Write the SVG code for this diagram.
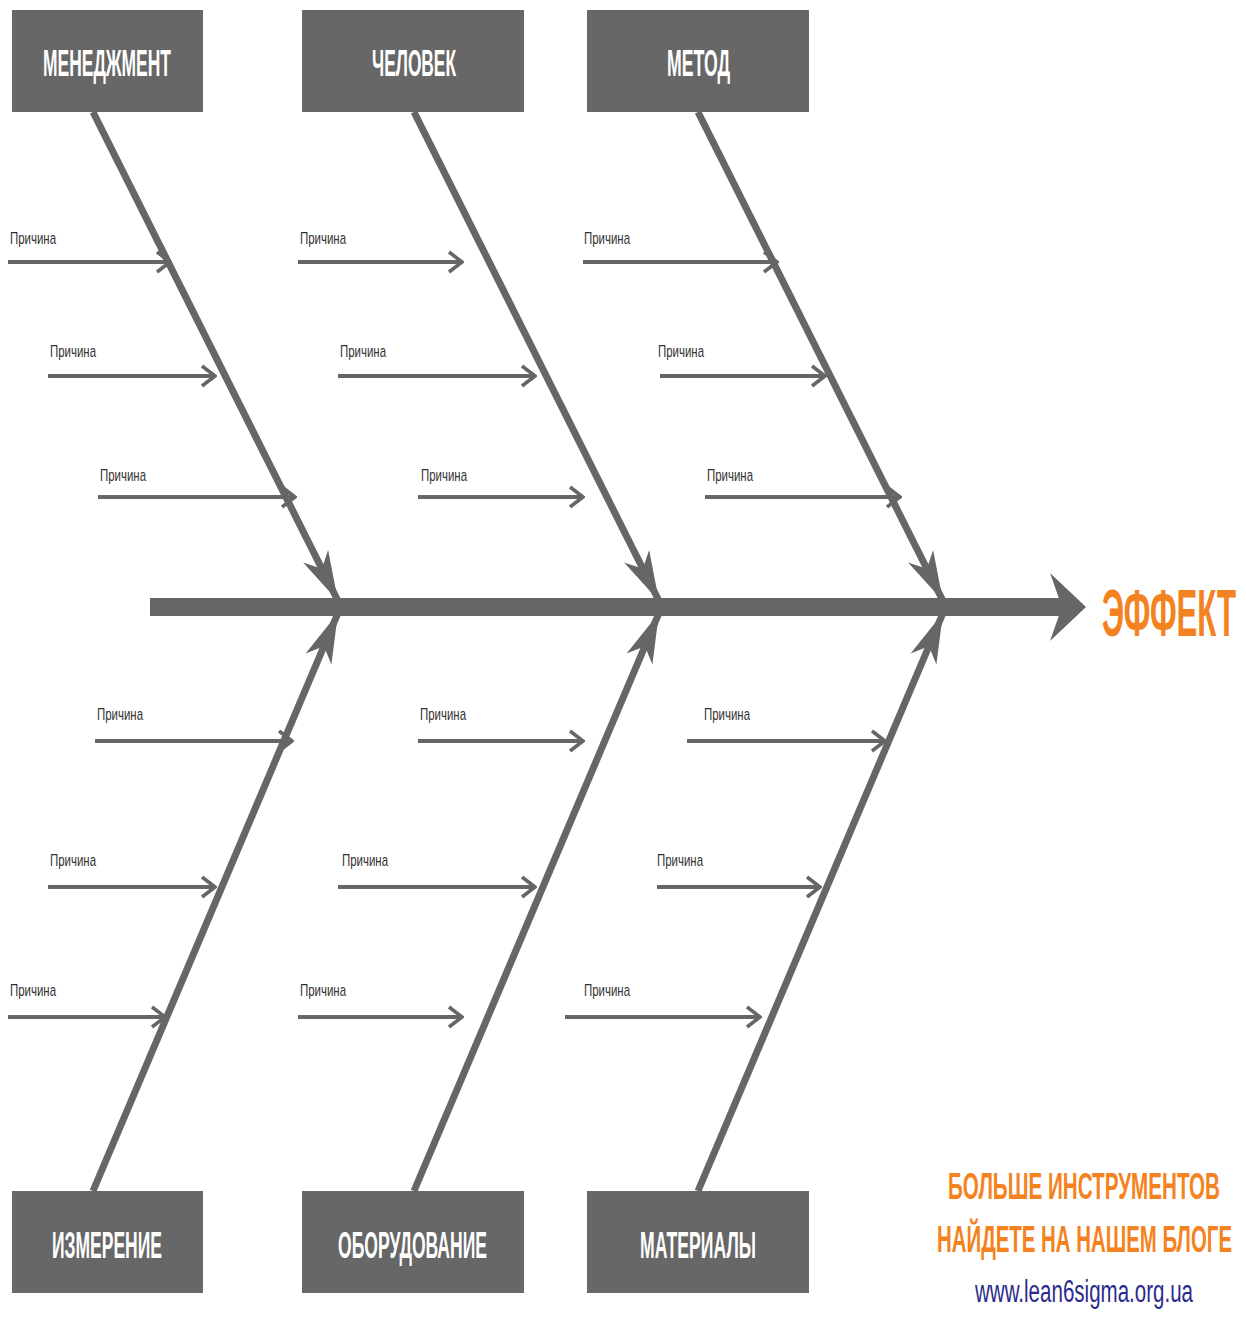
<svg xmlns="http://www.w3.org/2000/svg" width="1246" height="1326" viewBox="0 0 1246 1326">
<style>
.box{fill:#676767}
.bl{font-family:"Liberation Sans Narrow","Liberation Sans",Arial,sans-serif;font-weight:bold;fill:#fff;font-size:36px}
.c{font-family:"Liberation Sans Narrow","Liberation Sans",Arial,sans-serif;fill:#333;font-size:17px}
.rib{stroke:#666;stroke-width:7;fill:none}
.cause{stroke:#666;stroke-width:4;fill:none}
.or{font-family:"Liberation Sans Narrow","Liberation Sans",Arial,sans-serif;font-weight:bold;fill:#F58220}
</style>
<defs>
<marker id="ha" markerUnits="userSpaceOnUse" viewBox="-50 -16 52 32" refX="0" refY="0" markerWidth="52" markerHeight="32" orient="auto">
<path d="M0,0 L-50,-14 L-36,0 L-50,14 Z" fill="#666"/>
</marker>
<marker id="ca" markerUnits="userSpaceOnUse" viewBox="-16 -12 18 24" refX="0" refY="0" markerWidth="18" markerHeight="24" orient="auto">
<path d="M-13,-10 L0,0 L-13,10" fill="none" stroke="#666" stroke-width="3.5"/>
</marker>
</defs>
<rect width="1246" height="1326" fill="#fff"/>

<g id="connectors">
<line x1="150" y1="607" x2="1062" y2="607" stroke="#666" stroke-width="18"/>
<polygon points="1050,573 1086,607 1050,641 1062,607" fill="#666"/>
<line class="rib" x1="93" y1="112" x2="338" y2="601" marker-end="url(#ha)"/>
<line class="rib" x1="414" y1="112" x2="659" y2="601" marker-end="url(#ha)"/>
<line class="rib" x1="698" y1="112" x2="943" y2="601" marker-end="url(#ha)"/>
<line class="rib" x1="93" y1="1191" x2="338" y2="613" marker-end="url(#ha)"/>
<line class="rib" x1="414" y1="1191" x2="659" y2="613" marker-end="url(#ha)"/>
<line class="rib" x1="698" y1="1191" x2="943" y2="613" marker-end="url(#ha)"/>

<line class="cause" x1="8" y1="262" x2="170" y2="262" marker-end="url(#ca)"/>
<line class="cause" x1="48" y1="376" x2="215" y2="376" marker-end="url(#ca)"/>
<line class="cause" x1="98" y1="497" x2="295" y2="497" marker-end="url(#ca)"/>
<line class="cause" x1="298" y1="262" x2="462" y2="262" marker-end="url(#ca)"/>
<line class="cause" x1="338" y1="376" x2="535" y2="376" marker-end="url(#ca)"/>
<line class="cause" x1="418" y1="497" x2="583" y2="497" marker-end="url(#ca)"/>
<line class="cause" x1="583" y1="262" x2="777" y2="262" marker-end="url(#ca)"/>
<line class="cause" x1="660" y1="376" x2="825" y2="376" marker-end="url(#ca)"/>
<line class="cause" x1="705" y1="497" x2="900" y2="497" marker-end="url(#ca)"/>

<line class="cause" x1="95" y1="741" x2="292" y2="741" marker-end="url(#ca)"/>
<line class="cause" x1="48" y1="887" x2="215" y2="887" marker-end="url(#ca)"/>
<line class="cause" x1="8" y1="1017" x2="165" y2="1017" marker-end="url(#ca)"/>
<line class="cause" x1="418" y1="741" x2="583" y2="741" marker-end="url(#ca)"/>
<line class="cause" x1="338" y1="887" x2="535" y2="887" marker-end="url(#ca)"/>
<line class="cause" x1="298" y1="1017" x2="462" y2="1017" marker-end="url(#ca)"/>
<line class="cause" x1="687" y1="741" x2="885" y2="741" marker-end="url(#ca)"/>
<line class="cause" x1="657" y1="887" x2="820" y2="887" marker-end="url(#ca)"/>
<line class="cause" x1="565" y1="1017" x2="760" y2="1017" marker-end="url(#ca)"/>
</g>

<g id="n-management"><rect class="box" x="12" y="10" width="191" height="102"/><text class="bl" x="43" y="76" textLength="128" lengthAdjust="spacingAndGlyphs">МЕНЕДЖМЕНТ</text></g>
<g id="n-man"><rect class="box" x="302" y="10" width="222" height="102"/><text class="bl" x="372" y="76" textLength="84" lengthAdjust="spacingAndGlyphs">ЧЕЛОВЕК</text></g>
<g id="n-method"><rect class="box" x="587" y="10" width="222" height="102"/><text class="bl" x="667" y="76" textLength="63" lengthAdjust="spacingAndGlyphs">МЕТОД</text></g>
<g id="n-measure"><rect class="box" x="12" y="1191" width="191" height="102"/><text class="bl" x="52" y="1258" textLength="110" lengthAdjust="spacingAndGlyphs">ИЗМЕРЕНИЕ</text></g>
<g id="n-equipment"><rect class="box" x="302" y="1191" width="222" height="102"/><text class="bl" x="338" y="1258" textLength="149" lengthAdjust="spacingAndGlyphs">ОБОРУДОВАНИЕ</text></g>
<g id="n-materials"><rect class="box" x="587" y="1191" width="222" height="102"/><text class="bl" x="640" y="1258" textLength="116" lengthAdjust="spacingAndGlyphs">МАТЕРИАЛЫ</text></g>

<g id="causes">
<text class="c" x="10" y="244" textLength="46" lengthAdjust="spacingAndGlyphs">Причина</text>
<text class="c" x="50" y="357" textLength="46" lengthAdjust="spacingAndGlyphs">Причина</text>
<text class="c" x="100" y="481" textLength="46" lengthAdjust="spacingAndGlyphs">Причина</text>
<text class="c" x="300" y="244" textLength="46" lengthAdjust="spacingAndGlyphs">Причина</text>
<text class="c" x="340" y="357" textLength="46" lengthAdjust="spacingAndGlyphs">Причина</text>
<text class="c" x="421" y="481" textLength="46" lengthAdjust="spacingAndGlyphs">Причина</text>
<text class="c" x="584" y="244" textLength="46" lengthAdjust="spacingAndGlyphs">Причина</text>
<text class="c" x="658" y="357" textLength="46" lengthAdjust="spacingAndGlyphs">Причина</text>
<text class="c" x="707" y="481" textLength="46" lengthAdjust="spacingAndGlyphs">Причина</text>
<text class="c" x="97" y="720" textLength="46" lengthAdjust="spacingAndGlyphs">Причина</text>
<text class="c" x="50" y="866" textLength="46" lengthAdjust="spacingAndGlyphs">Причина</text>
<text class="c" x="10" y="996" textLength="46" lengthAdjust="spacingAndGlyphs">Причина</text>
<text class="c" x="420" y="720" textLength="46" lengthAdjust="spacingAndGlyphs">Причина</text>
<text class="c" x="342" y="866" textLength="46" lengthAdjust="spacingAndGlyphs">Причина</text>
<text class="c" x="300" y="996" textLength="46" lengthAdjust="spacingAndGlyphs">Причина</text>
<text class="c" x="704" y="720" textLength="46" lengthAdjust="spacingAndGlyphs">Причина</text>
<text class="c" x="657" y="866" textLength="46" lengthAdjust="spacingAndGlyphs">Причина</text>
<text class="c" x="584" y="996" textLength="46" lengthAdjust="spacingAndGlyphs">Причина</text>
</g>

<g id="n-effect"><text class="or" x="1102" y="636" font-size="66" textLength="134" lengthAdjust="spacingAndGlyphs">ЭФФЕКТ</text></g>

<g id="promo">
<text class="or" x="948" y="1199" font-size="36" textLength="272" lengthAdjust="spacingAndGlyphs">БОЛЬШЕ ИНСТРУМЕНТОВ</text>
<text class="or" x="937" y="1252" font-size="36" textLength="295" lengthAdjust="spacingAndGlyphs">НАЙДЕТЕ НА НАШЕМ БЛОГЕ</text>
<text x="975" y="1302" font-family="Liberation Sans Narrow,Liberation Sans,Arial,sans-serif" font-size="31" fill="#2B2B8C" textLength="218" lengthAdjust="spacingAndGlyphs">www.lean6sigma.org.ua</text>
</g>
</svg>
